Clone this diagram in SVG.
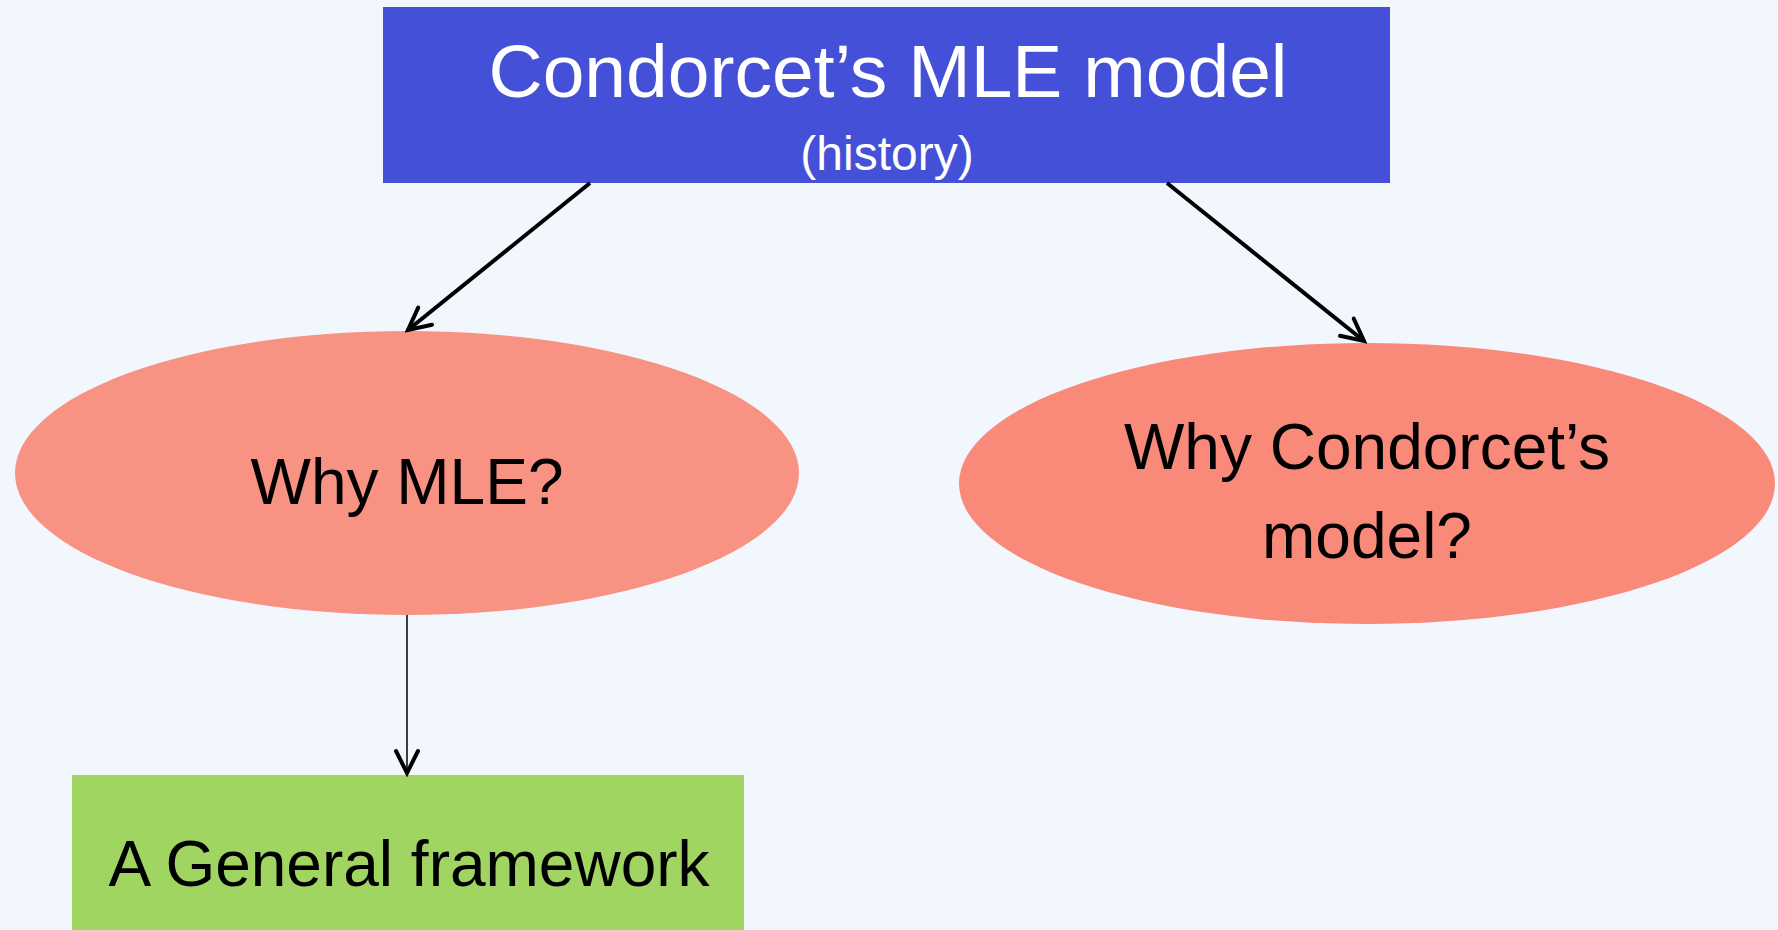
<svg xmlns="http://www.w3.org/2000/svg" width="1778" height="930" viewBox="0 0 1778 930">
<style>
.lbl{font-family:"Liberation Sans",Arial,sans-serif;text-anchor:middle}
.conn{stroke:#000;fill:none}
</style>
<defs>
<marker id="arr" viewBox="-26 -14 30 28" markerWidth="30" markerHeight="28" refX="0" refY="0" orient="auto" markerUnits="userSpaceOnUse">
<path d="M-22,-11 L0,0 L-22,11" fill="none" stroke="#000" stroke-width="4" stroke-linejoin="miter" stroke-linecap="round"/>
</marker>
</defs>
<rect width="1778" height="930" fill="#F2F7FD"/>
<g id="node-top">
<rect x="383" y="7" width="1007" height="176" fill="#4550D8"/>
<text class="lbl" x="888" y="97" font-size="75" fill="#FFFFFF">Condorcet’s MLE model</text>
<text class="lbl" x="887" y="170" font-size="48" fill="#FFFFFF">(history)</text>
</g>
<g id="node-why-mle">
<ellipse cx="407" cy="473" rx="392" ry="142" fill="#F89283"/>
<text class="lbl" x="407" y="504" font-size="64" fill="#000">Why MLE?</text>
</g>
<g id="node-why-condorcet">
<ellipse cx="1367" cy="483.5" rx="408" ry="140.5" fill="#F98A7A"/>
<text class="lbl" x="1367" y="469" font-size="64" fill="#000">Why Condorcet’s</text>
<text class="lbl" x="1367" y="558" font-size="64" fill="#000">model?</text>
</g>
<g id="node-framework">
<rect x="72" y="775" width="672" height="160" fill="#A1D561"/>
<text class="lbl" x="409" y="886" font-size="64" fill="#000">A General framework</text>
</g>
<g id="connectors">
<line class="conn" x1="590" y1="183" x2="408" y2="330" stroke-width="4" marker-end="url(#arr)"/>
<line class="conn" x1="1167" y1="183" x2="1364" y2="341" stroke-width="4" marker-end="url(#arr)"/>
<line class="conn" x1="407" y1="615" x2="407" y2="773" stroke-width="1.5" marker-end="url(#arr)"/>
</g>
</svg>
